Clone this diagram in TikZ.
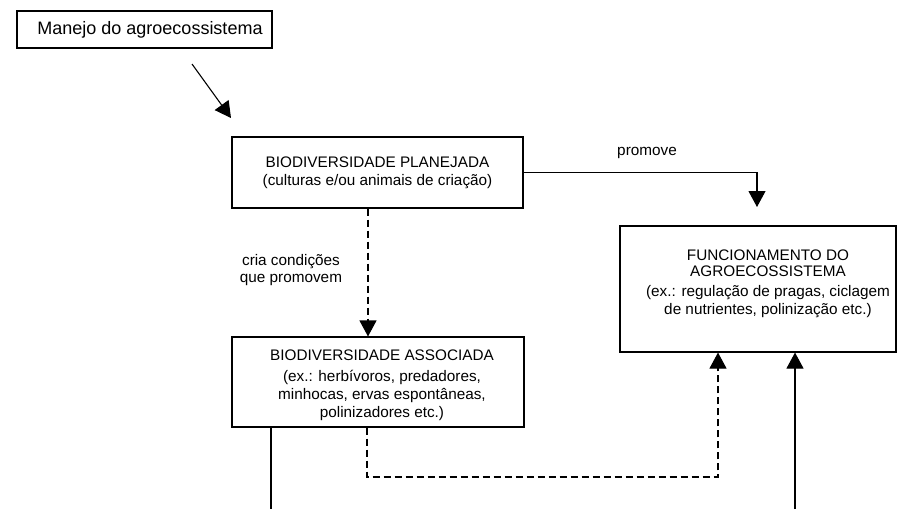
\documentclass[tikz,border=0pt]{standalone}
\usepackage{fontspec}
\setmainfont{Liberation Sans}
\usetikzlibrary{arrows.meta}
\begin{document}
\begin{tikzpicture}[x=1pt,y=-1pt,
  box/.style={draw, line width=1.1pt, align=center, inner sep=0pt, font=\fontsize{15.3}{18}\selectfont},
  lbl/.style={align=center, inner sep=0pt, font=\fontsize{15.3}{17}\selectfont},
  con/.style={line width=1.1pt, -{Triangle[length=16pt,width=17pt]}},
  ln/.style={line width=1.1pt},
  dsh/.style={dash pattern=on 7pt off 4pt}]
\useasboundingbox (0,0) rectangle (897,509);
\fill[white] (0,0) rectangle (897,509);
% boxes
\node[box, minimum width=255pt, minimum height=37pt, font=\fontsize{18}{20}\selectfont] (man) at (144.5,29.5) {\hspace{11pt}Manejo do agroecossistema};
\node[box, minimum width=291pt, minimum height=71pt] (plan) at (377.5,172.5)
  {BIODIVERSIDADE PLANEJADA\\(culturas e/ou animais de criação)};
\node[box, minimum width=276pt, minimum height=126pt] (func) at (758,289)
  {\hspace{20pt}FUNCIONAMENTO DO\\[-2pt]\hspace{20pt}AGROECOSSISTEMA\\[2pt]\hspace{20pt}(ex.: regulação de pragas, ciclagem\\\hspace{20pt}de nutrientes, polinização etc.)\\[-4pt]};
\node[box, minimum width=292pt, minimum height=90pt] (assoc) at (378,382)
  {\rule{0pt}{17pt}\hspace{8pt}BIODIVERSIDADE ASSOCIADA\\[3pt]\hspace{8pt}(ex.: herbívoros, predadores,\\\hspace{8pt}minhocas, ervas espontâneas,\\\hspace{8pt}polinizadores etc.)};
% labels
\node[lbl] (lp) at (647,153) {promove};
\node[lbl] (lc) at (291,270.5) {cria condições\\que promovem};
% coordinates
\coordinate (m1) at (192,64);
\coordinate (m2) at (231,118);
\coordinate (pt) at (757,207);
\coordinate (dx) at (368,0);
\coordinate (b1) at (271,509);
\coordinate (d1) at (367,477);
\coordinate (dx2) at (718,0);
\coordinate (b2) at (795,509);
% connectors
\draw[con] (m1) -- (m2);
\draw[con] (plan.east) -| (pt);
\draw[con,dsh] (plan.south -| dx) -- (assoc.north -| dx);
\draw[ln] (assoc.south -| b1) -- (b1);
\draw[con,dsh] (assoc.south -| d1) -- (d1) -| (func.south -| dx2);
\draw[con] (b2) -- (func.south -| b2);
\end{tikzpicture}
\end{document}
